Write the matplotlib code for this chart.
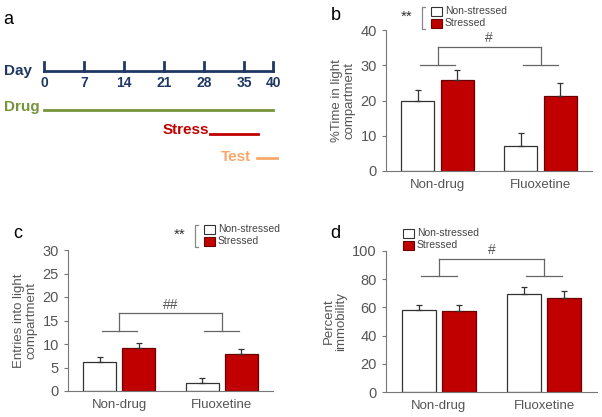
import matplotlib.pyplot as plt
import numpy as np

plt.rcParams['font.family'] = ['Liberation Sans', 'DejaVu Sans']

groups = ['Non-drug', 'Fluoxetine']
legend_labels = ['Non-stressed', 'Stressed']

# panel b: % time in light compartment
b_non = [19.8, 7.0]
b_non_err = [3.3, 3.8]
b_str = [25.9, 21.3]
b_str_err = [2.7, 3.6]

# panel c: entries into light compartment
c_non = [6.2, 1.8]
c_non_err = [1.1, 1.0]
c_str = [9.2, 7.8]
c_str_err = [1.0, 1.1]

# panel d: percent immobility
d_non = [58.2, 69.6]
d_non_err = [3.8, 5.2]
d_str = [57.2, 66.5]
d_str_err = [4.3, 4.8]

# panel a: timeline (days)
day_ticks = [0, 7, 14, 21, 28, 35, 40]
drug_days = (0, 40)
stress_days = (29, 37.4)
test_days = (37.2, 40.7)

red = '#c00000'
gray = '#555555'

fig = plt.figure(figsize=(6.02, 4.17), dpi=100)

def px(x, y):
    # pixel position -> figure fraction
    return x / 602, 1 - y / 417

def fig_text(x, y, s, **kw):
    fx, fy = px(x, y)
    fig.text(fx, fy, s, **kw)

# ---------- panel a ----------
ax = fig.add_axes([44 / 602, 1 - 170 / 417, 229 / 602, 110 / 417])
ax.set_xlim(0, 40)
ax.set_ylim(170, 60)
ax.axis('off')
navy = '#1f3864'
ax.plot([day_ticks[0], day_ticks[-1]], [71, 71], color=navy, lw=2, clip_on=False)
for d in day_ticks:
    ax.plot([d, d], [71, 62], color=navy, lw=2, clip_on=False)
    ax.text(d, 83, str(d), color=navy, fontsize=10, fontweight='bold', ha='center', va='center')
ax.plot(drug_days, [110, 110], color='#77933c', lw=2, clip_on=False)
ax.plot(stress_days, [134, 134], color=red, lw=2, clip_on=False)
ax.plot(test_days, [158, 158], color='#f9a86b', lw=2, clip_on=False)
fig_text(4, 71, 'Day', color=navy, fontsize=11, fontweight='bold', va='center')
fig_text(4, 107, 'Drug', color='#77933c', fontsize=11, fontweight='bold', va='center')
fig_text(163, 130, 'Stress', color=red, fontsize=11, fontweight='bold', va='center')
fig_text(221, 157, 'Test', color='#f9a86b', fontsize=11, fontweight='bold', va='center')
fig_text(3, 20, 'a', fontsize=13, va='center')


def bar_panel(rect, non, non_err, stre, stre_err, ymax, ystep, ylabel, brk_y, brk_top, mark):
    ax = fig.add_axes(rect)
    x = np.arange(len(groups))
    off, w = 0.19, 0.32
    ek = dict(ecolor='#333333', elinewidth=0.9, capsize=2.5, capthick=0.9)
    ax.bar(x - off, non, w, color='white', edgecolor='#333333', linewidth=0.9,
           yerr=[np.zeros(len(non)), non_err], error_kw=ek, zorder=2)
    ax.bar(x + off, stre, w, color=red, edgecolor='#6a0000', linewidth=0.9,
           yerr=[np.zeros(len(stre)), stre_err], error_kw=ek, zorder=2)
    ax.set_xlim(-0.5, 1.5)
    ax.set_ylim(0, ymax)
    ax.set_yticks(np.arange(0, ymax + 0.1, ystep))
    ax.set_xticks(x)
    ax.set_xticklabels(groups)
    for s in ['top', 'right']:
        ax.spines[s].set_visible(False)
    for s in ['left', 'bottom']:
        ax.spines[s].set_color('#777777')
    ax.tick_params(axis='y', colors=gray, labelsize=10.5, length=3, color='#777777')
    ax.tick_params(axis='x', colors=gray, labelsize=9.5, length=0, pad=6)
    ax.set_ylabel(ylabel, color=gray, fontsize=9.5, linespacing=1.0, labelpad=4)
    # significance bracket
    bc = '#666666'
    for g in x:
        ax.plot([g - 0.17, g + 0.17], [brk_y, brk_y], color=bc, lw=0.9, clip_on=False)
        ax.plot([g, g], [brk_y, brk_top], color=bc, lw=0.9, clip_on=False)
    ax.plot([x[0], x[-1]], [brk_top, brk_top], color=bc, lw=0.9, clip_on=False)
    ax.text(x.mean(), brk_top + ymax * 0.01, mark, color=gray, fontsize=10,
            ha='center', va='bottom')
    return ax


def legend_block(x0, y0, stars):
    # x0, y0: pixel position of the top-left legend box
    if stars:
        fig_text(x0 - 24, y0 + 10, '**', fontsize=11, color='#333333', va='center', ha='center')
        fx1, fy1 = px(x0 - 9, y0)
        fx2, fy2 = px(x0 - 6, y0 + 22)
        fig.add_artist(plt.Line2D([fx2, fx1, fx1, fx2], [fy1, fy1, fy2, fy2],
                                  color='#888888', lw=0.9))
    for i, (lab, fc, ec) in enumerate(zip(legend_labels, ['white', red], ['#333333', '#6a0000'])):
        fx, fy = px(x0, y0 + 12 * i + 9)
        fig.add_artist(plt.Rectangle((fx, fy), 11 / 602, 9 / 417, facecolor=fc,
                                     edgecolor=ec, lw=0.8))
        fig_text(x0 + 14, y0 + 12 * i + 4.5, lab, fontsize=7.5, color='#444444', va='center')


# ---------- panel b ----------
bar_panel([386 / 602, 246 / 417, 206 / 602, 141 / 417], b_non, b_non_err, b_str, b_str_err,
          40, 10, '%Time in light\ncompartment', 30, 35.3, '#')
fig_text(331, 15, 'b', fontsize=13, va='center')
legend_block(431, 7, True)

# ---------- panel c ----------
bar_panel([68 / 602, 26 / 417, 205 / 602, 141 / 417], c_non, c_non_err, c_str, c_str_err,
          30, 5, 'Entries into light\ncompartment', 12.8, 16.5, '##')
fig_text(13, 233, 'c', fontsize=13, va='center')
legend_block(204, 225, True)

# ---------- panel d ----------
bar_panel([386 / 602, 25 / 417, 211 / 602, 141 / 417], d_non, d_non_err, d_str, d_str_err,
          100, 20, 'Percent\nimmobility', 82, 94.6, '#')
fig_text(330, 233, 'd', fontsize=13, va='center')
legend_block(403, 229, False)

fig.savefig('out.png', dpi=100)
